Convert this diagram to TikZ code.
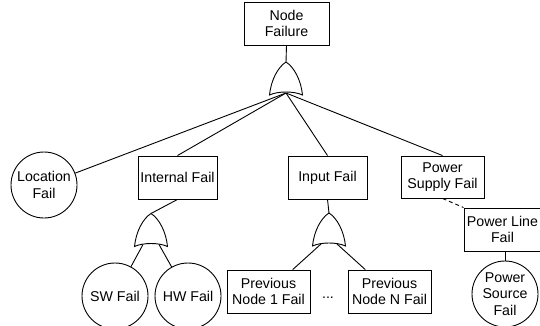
\documentclass[tikz,border=0pt]{standalone}
\usepackage{fontspec}
\setmainfont{Liberation Sans}
\begin{document}
\begin{tikzpicture}[x=1pt,y=-1pt,line width=0.9pt,
  every node/.style={font=\fontsize{14.2}{16.6}\selectfont},
  box/.style={draw,rectangle,inner sep=0pt,minimum height=43pt,align=center},
  evt/.style={draw,circle,inner sep=0pt,minimum size=66pt,align=center},
  link/.style={draw},
  dlink/.style={draw,dash pattern=on 4pt off 3pt},
  pics/orgate/.style={code={
    \draw (-16.5,33) .. controls (-15,18) and (-8,5) .. (0,0)
          .. controls (8,5) and (15,18) .. (16.5,33)
          .. controls (8,29) and (-8,29) .. cycle;
    \coordinate (-top) at (0,0);
    \coordinate (-out) at (0,31);
    \coordinate (-L) at (-8,31);
    \coordinate (-R) at (8,31);
  }}]
\useasboundingbox (0,0) rectangle (540,326);

\node[box,minimum width=85pt] (nf) at (286.5,23.5) {Node\\Failure};
\pic (g1) at (286,62) {orgate};

\node[evt] (loc) at (44,185) {Location\\Fail};
\node[box,minimum width=79pt] (intf) at (177.5,177.5) {Internal Fail};
\node[box,minimum width=79pt] (inpf) at (327.5,177.5) {Input Fail};
\node[box,minimum width=83pt,minimum height=42pt] (psf) at (442.5,177) {Power\\Supply Fail};

\pic (g2) at (151,213.5) {orgate};
\pic (g3) at (329,213) {orgate};

\node[evt] (sw) at (115,296) {SW Fail};
\node[evt] (hw) at (188,296) {HW Fail};
\node[box,minimum width=83pt] (pn1) at (268.5,291.5) {Previous\\Node 1 Fail};
\node[box,minimum width=83pt] (pnn) at (389.5,291.5) {Previous\\Node N Fail};
\node[inner sep=0pt] (dots) at (328,298) {...};

\node[box,minimum width=77pt] (plf) at (502.5,229.5) {Power Line\\Fail};
\node[evt] (psc) at (505,294) {Power\\Source\\Fail};

\path[link] (nf.south) -- (g1-top);
\path[link] (g1-out) -- (loc);
\path[link] (g1-out) -- (intf.north);
\path[link] (g1-out) -- (inpf.north);
\path[link] (g1-out) -- (psf.north);

\path[link] (intf.south) -- (g2-top);
\path[link] (g2-L) -- (sw);
\path[link] (g2-R) -- (hw);

\path[link] (inpf.south) -- (g3-top);
\path[link] (g3-L) -- (pn1);
\path[link] (g3-R) -- (pnn);

\path[dlink] (psf.south) -- (plf.north west);
\path[link] (psc.north) -- (psc.north |- plf.south);
\end{tikzpicture}
\end{document}
